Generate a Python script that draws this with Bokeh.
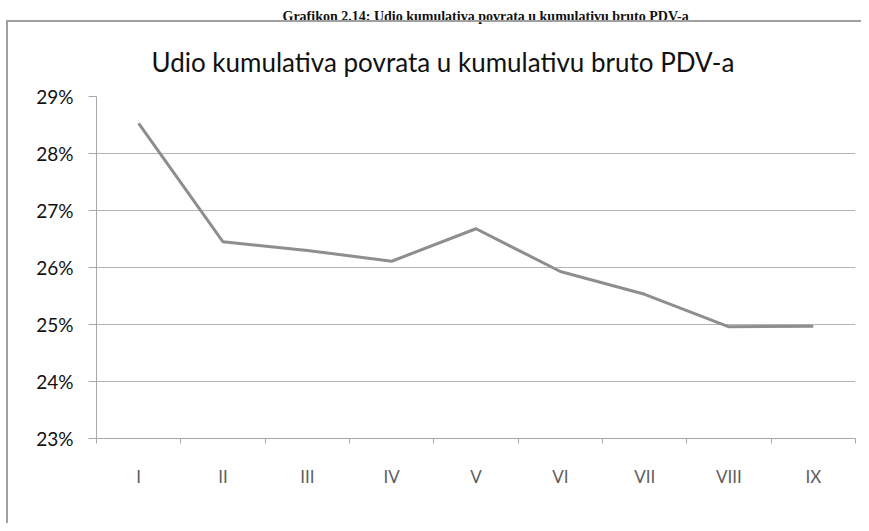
from bokeh.plotting import figure
from bokeh.models import Range1d, FixedTicker, PrintfTickFormatter, Title, InlineStyleSheet
from bokeh.embed import file_html
from bokeh.resources import INLINE

months = ["I", "II", "III", "IV", "V", "VI", "VII", "VIII", "IX"]
share_pct = [28.53, 26.45, 26.30, 26.11, 26.68, 25.93, 25.53, 24.96, 24.97]
y_ticks = [23, 24, 25, 26, 27, 28, 29]
chart_title = "Udio kumulativa povrata u kumulativu bruto PDV-a"
header = "Grafikon 2.14: Udio kumulativa povrata u kumulativu bruto PDV-a"

x_pos = [i + 0.5 for i in range(len(months))]

W, H = 861, 523
p = figure(width=W, height=H, output_backend="svg", toolbar_location=None,
           x_range=Range1d(0, len(months)), y_range=Range1d(min(y_ticks), max(y_ticks)),
           min_border_left=96, min_border_right=6, min_border_top=96, min_border_bottom=85)
p.title.visible = False

main_title = Title(text=chart_title, text_font="Lato", text_font_size="26px",
                   text_font_style="normal", text_color="#111111",
                   align="left", offset=55, standoff=37)
p.add_layout(main_title, "above")

doc_caption = Title(text=header, text_font="Liberation Serif", text_font_size="14px",
                    text_font_style="bold", text_color="#111111",
                    align="left", offset=186, standoff=3)
p.add_layout(doc_caption, "above")

p.outline_line_color = None
p.background_fill_color = "white"
p.border_fill_color = "white"

p.line(x_pos, share_pct, line_color="#8e8e8e", line_width=3)

# y axis
ya = p.yaxis[0]
ya.ticker = FixedTicker(ticks=y_ticks)
ya.formatter = PrintfTickFormatter(format="%d%%")
ya.axis_line_color = "#a8a8a8"
ya.major_tick_line_color = "#a8a8a8"
ya.major_tick_out = 8
ya.major_tick_in = 0
ya.minor_tick_line_color = None
ya.major_label_standoff = 15
ya.major_label_text_font = "Lato"
ya.major_label_text_font_size = "19px"
ya.major_label_text_color = "#111111"

# x axis
xa = p.xaxis[0]
xa.ticker = FixedTicker(ticks=x_pos, minor_ticks=list(range(len(months) + 1)))
xa.major_label_overrides = {x: m for x, m in zip(x_pos, months)}
xa.axis_line_color = "#a8a8a8"
xa.major_tick_line_color = None
xa.major_tick_out = 0
xa.major_tick_in = 0
xa.minor_tick_line_color = "#a8a8a8"
xa.minor_tick_out = 5
xa.minor_tick_in = 0
xa.major_label_standoff = 22
xa.major_label_text_font = "Lato"
xa.major_label_text_font_size = "17px"
xa.major_label_text_color = "#5e5e5e"

p.xgrid.grid_line_color = None
p.ygrid.grid_line_color = "#b4b4b4"
p.ygrid.grid_line_width = 1

# grey frame around the chart (decoration): left and top edges
p.stylesheets = [InlineStyleSheet(css="""
:host { position: relative; }
:host::after { content: ''; position: absolute; left: 6px; top: 20px;
  right: 0px; bottom: 0px; border-left: 2px solid #a0a0a0; border-top: 2px solid #a0a0a0;
  pointer-events: none; }
""")]

open("out.html", "w").write(file_html(p, INLINE))
